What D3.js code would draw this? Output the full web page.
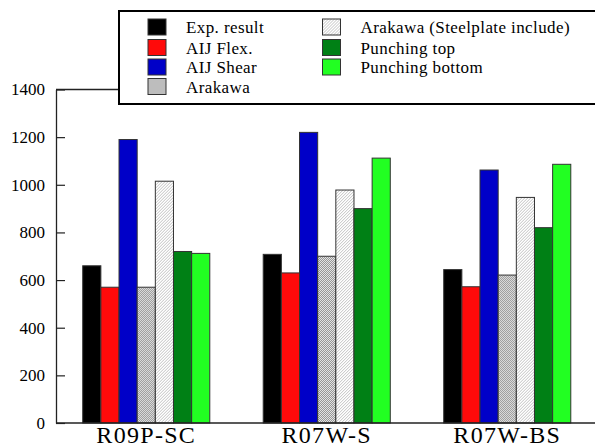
<!DOCTYPE html>
<html>
<head>
<meta charset="utf-8">
<script src="https://cdn.jsdelivr.net/npm/d3@7"></script>
<style>
  body { margin: 0; background: #fff; }
  svg text { font-family: "Liberation Serif", "Times New Roman", "DejaVu Serif", serif; }
</style>
</head>
<body>
<div id="chart"></div>
<script>
// specimens on the x axis
const specimens = ["R09P-SC", "R07W-S", "R07W-BS"];
// one array per series, same order as specimens
const expResult      = [660, 708, 644];
const aijFlex        = [570, 630, 572];
const aijShear       = [1190, 1220, 1062];
const arakawa        = [570, 700, 621];
const arakawaSteel   = [1015, 978, 947];
const punchingTop    = [720, 900, 820];
const punchingBottom = [712, 1112, 1086];
const yTicks = [0, 200, 400, 600, 800, 1000, 1200, 1400];

const seriesNames = ["Exp. result", "AIJ Flex.", "AIJ Shear", "Arakawa",
    "Arakawa (Steelplate include)", "Punching top", "Punching bottom"];
const seriesValues = [expResult, aijFlex, aijShear, arakawa, arakawaSteel, punchingTop, punchingBottom];
const fills = ["#000000", "#ff0a0a", "#0000c8", "url(#dots)", "url(#hatch)", "#008015", "#22ff22"];

const serif = "Liberation Serif, Times New Roman, DejaVu Serif, serif";
const width = 595, height = 448;
const svg = d3.select("#chart").append("svg")
    .attr("width", width)
    .attr("height", height)
    .attr("font-family", serif);

// fill patterns for the two Arakawa series
const defs = svg.append("defs");
const dots = defs.append("pattern").attr("id", "dots")
    .attr("patternUnits", "userSpaceOnUse").attr("width", 2).attr("height", 2);
dots.append("rect").attr("width", 2).attr("height", 2).attr("fill", "#ffffff");
dots.append("rect").attr("width", 1).attr("height", 1).attr("fill", "#7a7a7a");
dots.append("rect").attr("x", 1).attr("y", 1).attr("width", 1).attr("height", 1).attr("fill", "#7a7a7a");

const hatch = defs.append("pattern").attr("id", "hatch")
    .attr("patternUnits", "userSpaceOnUse").attr("width", 3).attr("height", 3);
hatch.append("rect").attr("width", 3).attr("height", 3).attr("fill", "#ffffff");
hatch.append("path").attr("d", "M0,3 L3,0 M-1,1 L1,-1 M2,4 L4,2")
    .attr("stroke", "#b0b0b0").attr("stroke-width", 0.8);

const plotLeft = 56, plotRight = 597.5, plotTop = 89.5, plotBottom = 423;

const x0 = d3.scaleBand()
    .domain(specimens)
    .range([plotLeft, plotRight])
    .paddingInner(0.296)
    .paddingOuter(0.148);

const x1 = d3.scaleBand()
    .domain(d3.range(seriesNames.length))
    .range([0, x0.bandwidth()]);

const y = d3.scaleLinear()
    .domain([0, 1400])
    .range([plotBottom, plotTop]);

// top frame line (goes behind the legend)
svg.append("line")
    .attr("x1", plotLeft).attr("x2", width)
    .attr("y1", y(1400)).attr("y2", y(1400))
    .attr("stroke", "#222").attr("stroke-width", 1.3);

// bars
const groups = svg.selectAll("g.group")
    .data(specimens)
    .enter()
    .append("g")
    .attr("class", "group")
    .attr("transform", d => `translate(${x0(d)},0)`);

groups.selectAll("rect")
    .data((d, i) => seriesValues.map((vals, s) => ({ s: s, v: vals[i] })))
    .enter()
    .append("rect")
    .attr("x", d => x1(d.s))
    .attr("width", x1.bandwidth())
    .attr("y", d => y(d.v))
    .attr("height", d => y(0) - y(d.v))
    .attr("fill", d => fills[d.s])
    .attr("stroke", "#333")
    .attr("stroke-width", 1);

// y axis with inward ticks
const yAxis = svg.append("g")
    .attr("transform", `translate(${plotLeft},0)`)
    .call(d3.axisLeft(y).tickValues(yTicks).tickFormat(d3.format("d"))
        .tickSize(-9).tickSizeOuter(0).tickPadding(11));
yAxis.attr("font-family", serif).attr("font-size", 17);
yAxis.select(".domain").attr("stroke", "#222").attr("stroke-width", 1.3);
yAxis.selectAll(".tick line").attr("stroke", "#222").attr("stroke-width", 1.2);
yAxis.selectAll("text").attr("fill", "#000");

// x axis: line only, labels at group centres
const xAxis = svg.append("g")
    .attr("transform", `translate(0,${plotBottom})`)
    .call(d3.axisBottom(x0).tickSize(0));
xAxis.attr("font-family", serif).attr("font-size", 24);
xAxis.select(".domain").attr("d", `M${plotLeft},0H${width}`)
    .attr("stroke", "#222").attr("stroke-width", 1.3);
xAxis.selectAll("text")
    .attr("dy", null)
    .attr("y", 19.5)
    .attr("letter-spacing", 1.3)
    .attr("fill", "#000");

// legend
const legend = svg.append("g");
legend.append("rect")
    .attr("x", 119).attr("y", 11)
    .attr("width", 500).attr("height", 93)
    .attr("fill", "#fff")
    .attr("stroke", "#000")
    .attr("stroke-width", 2);

const legendPos = [
    [148, 19], [148, 39.5], [148, 59], [148, 78.5],
    [322.5, 19], [322.5, 39.5], [322.5, 59]
];
const items = legend.selectAll("g.item")
    .data(seriesNames)
    .enter()
    .append("g")
    .attr("class", "item")
    .attr("transform", (d, i) => `translate(${legendPos[i][0]},${legendPos[i][1]})`);

items.append("rect")
    .attr("width", 18).attr("height", 16)
    .attr("fill", (d, i) => fills[i])
    .attr("stroke", "#333")
    .attr("stroke-width", 1);

items.append("text")
    .attr("x", 38)
    .attr("y", 14)
    .attr("font-size", 17)
    .attr("letter-spacing", 0.4)
    .text(d => d);
</script>
</body>
</html>
